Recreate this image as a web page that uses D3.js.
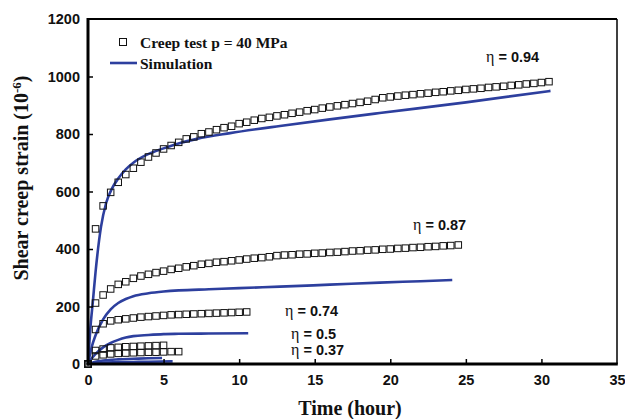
<!DOCTYPE html>
<html><head><meta charset="utf-8">
<script src="https://cdn.jsdelivr.net/npm/d3@7"></script>
<style>body{margin:0;background:#fff}svg{display:block}</style>
</head><body><svg id="c" width="625" height="419"></svg>
<script>
// ---- data ----
const xTicks = [0,5,10,15,20,25,30,35];
const yTicks = [0,200,400,600,800,1000,1200];
const testTimes = [0,0.5,1,1.5,2,2.5,3,3.5,4,4.5,5,5.5,6,6.5,7,7.5,8,8.5,9,9.5,10,10.5,11,11.5,12,12.5,13,13.5,14,14.5,15,15.5,16,16.5,17,17.5,18,18.5,19,19.5,20,20.5,21,21.5,22,22.5,23,23.5,24,24.5,25,25.5,26,26.5,27,27.5,28,28.5,29,29.5,30,30.5];
const test094 = [0,470,550,597,632,659,681,702,720,734,748,760,771,783,790,801,807,815,822,827,836,841,848,854,858,863,867,872,876,881,885,890,894,898,902,906,910,914,920,926,929,932,935,937,940,942,945,947,950,952,955,957,959,962,964,966,969,971,974,976,979,982];
const test087 = [0,212,240,261,277,286,298,306,312,318,323,329,333,338,342,347,350,354,356,359,362,365,368,370,373,377,379,380,382,383,385,386,388,389,391,393,394,396,397,399,400,402,403,405,406,408,409,411,412,414];
const test074 = [0,120,140,150,154,157,160,163,165,167,169,171,172,173,174,175,176,177,178,179,180,181];
const test050 = [0,47,52,56,58,60,61,62,63,64,65];
const test037 = [0,28,32,35,37,38,39,40,41,41,42,43,43];

const simT094 = [0,0.15,0.33,0.5,0.86,1.2,1.6,2,2.5,3,3.9,5,6.1,7.2,9.4,12.7,16,19.3,25,30.6];
const sim094  = [0,120,222,320,477,560,612,645,677,700,728,750,769,783,803,828,851,873,910,950];
const simT087 = [0,0.25,0.5,1,1.5,2,2.5,3,4,5,6,8,10,12.7,16,19.3,22,24.1];
const sim087  = [0,60,100,155,190,212,226,236,246,252,256,260,264,269,276,283,288,292];
const simT074 = [0,0.25,0.5,1,1.5,2,2.5,3,4,5,6,8,10.6];
const sim074  = [0,20,35,58,73,84,92,97,101,104,105,106,107];
const simT050 = [0,0.25,0.5,1,2,3,4,4.9];
const sim050  = [0,4,8,12,16,18,20,21];
const simT037 = [0,0.25,0.5,1,2,3,4,5.6];
const sim037  = [0,2,3,5,6,7,8,9];

const etaLabels = ["0.94","0.87","0.74","0.5","0.37"];

// ---- chart ----
const svg = d3.select("#c");
const x = d3.scaleLinear().domain([0,35]).range([88,617]);
const y = d3.scaleLinear().domain([0,1200]).range([364,19]);
const blue = "#2d3f9e";

// simulation lines
const line = d3.line().x(d=>x(d[0])).y(d=>y(d[1])).curve(d3.curveMonotoneX);
const sims = [[simT094,sim094],[simT087,sim087],[simT074,sim074],[simT050,sim050],[simT037,sim037]];
sims.forEach(([t,v])=>{
  svg.append("path").attr("d", line(t.map((tt,i)=>[tt,v[i]])))
    .attr("fill","none").attr("stroke",blue).attr("stroke-width",2.6);
});

// test markers
const tests = [test094,test087,test074,test050,test037];
const ms = 6.5;
tests.forEach(v=>{
  svg.append("g").selectAll("rect").data(v.map((val,i)=>[testTimes[i],val])).join("rect")
    .attr("x",d=>x(d[0])-ms/2).attr("y",d=>y(d[1])-ms/2)
    .attr("width",ms).attr("height",ms)
    .attr("fill","none").attr("stroke","#111").attr("stroke-width",1);
});

// axes
const xa = svg.append("g").attr("transform","translate(0,364)")
  .call(d3.axisBottom(x).tickValues(xTicks).tickFormat(d3.format("d")).tickSize(-5).tickPadding(11));
const ya = svg.append("g").attr("transform","translate(88,0)")
  .call(d3.axisLeft(y).tickValues(yTicks).tickFormat(d3.format("d")).tickSize(-5).tickPadding(8));
[xa,ya].forEach(a=>{
  a.select(".domain").remove();
  a.selectAll(".tick line").attr("stroke","#000").attr("stroke-width",1.5);
  a.selectAll(".tick text").attr("font-family","Liberation Sans, Arial, sans-serif")
    .attr("font-weight","bold").attr("font-size",14.5).attr("fill","#111");
});
xa.selectAll(".tick line").filter(d=>d===0||d===35).remove();
ya.selectAll(".tick line").filter(d=>d===0||d===1200).remove();

// frame
svg.append("line").attr("x1",x(0)).attr("x2",x(35)).attr("y1",y(1200)).attr("y2",y(1200)).attr("stroke","#000").attr("stroke-width",1.8);
svg.append("line").attr("x1",x(35)).attr("x2",x(35)).attr("y1",y(1200)).attr("y2",y(0)).attr("stroke","#000").attr("stroke-width",1.5);
svg.append("line").attr("x1",x(0)).attr("x2",x(0)).attr("y1",y(1200)-1).attr("y2",y(0)+1.5).attr("stroke","#000").attr("stroke-width",3);
svg.append("line").attr("x1",x(0)-1.5).attr("x2",x(35)+0.8).attr("y1",y(0)).attr("y2",y(0)).attr("stroke","#000").attr("stroke-width",3);

// axis titles
const serif = "Liberation Serif, Times New Roman, serif";
svg.append("text").attr("x",350).attr("y",415).attr("text-anchor","middle")
  .attr("font-family",serif).attr("font-weight","bold").attr("font-size",20).attr("fill","#111")
  .text("Time (hour)");
const yt = svg.append("text").attr("transform","translate(28,178) rotate(-90)").attr("text-anchor","middle")
  .attr("font-family",serif).attr("font-weight","bold").attr("font-size",20).attr("fill","#111");
yt.append("tspan").text("Shear creep strain (10");
yt.append("tspan").attr("dy",-7).attr("font-size",13).text("-6");
yt.append("tspan").attr("dy",7).text(")");

// legend
svg.append("rect").attr("x",119.5).attr("y",38.5).attr("width",7).attr("height",7)
  .attr("fill","none").attr("stroke","#111").attr("stroke-width",1);
svg.append("text").attr("x",140).attr("y",48).attr("font-family",serif).attr("font-weight","bold")
  .attr("font-size",15.5).attr("fill","#111").text("Creep test p = 40 MPa");
svg.append("line").attr("x1",110).attr("x2",137).attr("y1",63).attr("y2",63).attr("stroke",blue).attr("stroke-width",2.6);
svg.append("text").attr("x",140).attr("y",69).attr("font-family",serif).attr("font-weight","bold")
  .attr("font-size",15.5).attr("fill","#111").text("Simulation");

// eta annotations
const etaPos = [[486,62],[413,230],[285,316],[291,339],[291,355]];
etaLabels.forEach((lab,i)=>{
  const t = svg.append("text").attr("x",etaPos[i][0]).attr("y",etaPos[i][1]).attr("fill","#111");
  t.append("tspan").attr("font-family",serif).attr("font-size",16).text("η");
  t.append("tspan").attr("font-family","Liberation Sans, Arial, sans-serif").attr("font-weight","bold")
    .attr("font-size",14.5).text(" = " + lab);
});
</script></body></html>
